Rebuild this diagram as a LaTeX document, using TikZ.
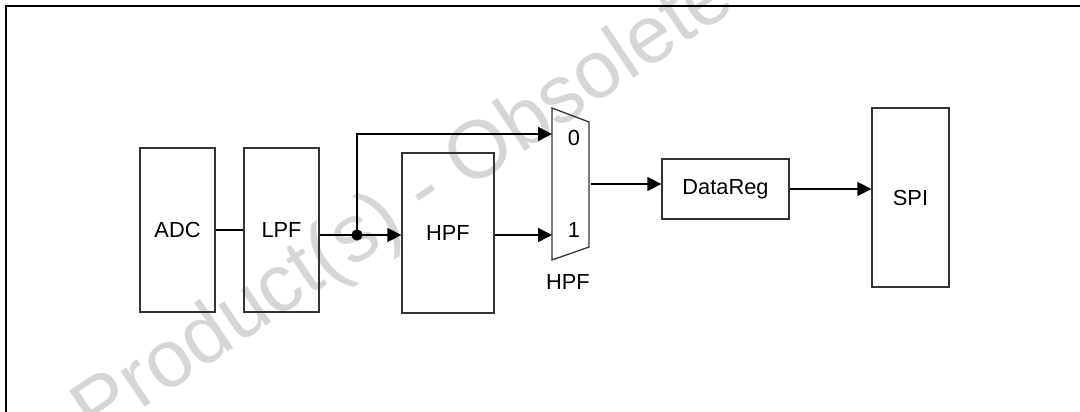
\documentclass[tikz,border=0pt]{standalone}
\usepackage{fontspec}
\setmainfont{Liberation Sans}
\usetikzlibrary{arrows.meta}
\usetikzlibrary{calc}
\tikzset{>={Triangle[length=3.5mm,width=3.5mm]}}
\tikzset{
  blk/.style={draw=black!80, line width=0.9pt, inner sep=0pt, font=\fontsize{15.5}{18}\selectfont},
  lbl/.style={inner sep=0pt, font=\fontsize{15.5}{18}\selectfont},
  wire/.style={line width=1pt}
}

\begin{document}
\begin{tikzpicture}[x=0.025cm,y=-0.025cm]
  \useasboundingbox (0,0) rectangle (1080,412);
  % watermark
  \node[rotate=34, text=black!16, font=\fontsize{58}{66}\selectfont] (wm) at (405,207) {Product(s) - Obsolete};
  % frame
  \draw[line width=1.5pt] (6,430) -- (6,6) -- (1090,6);
  % blocks
  \node[blk, minimum width=1.875cm, minimum height=4.1cm] (adc) at (177.5,230) {ADC};
  \node[blk, minimum width=1.875cm, minimum height=4.1cm] (lpf) at (281.5,230) {LPF};
  \node[blk, minimum width=2.3cm, minimum height=4cm] (hpf) at (448,233) {HPF};
  \node[blk, minimum width=3.175cm, minimum height=1.5cm] (reg) at (725.5,189) {DataReg};
  \node[blk, minimum width=1.925cm, minimum height=4.475cm] (spi) at (910.5,197.5) {SPI};
  % mux
  \coordinate (muxA) at (552,108);
  \coordinate (muxB) at (589,122);
  \coordinate (muxC) at (589,247);
  \coordinate (muxD) at (552,260);
  \draw[draw=black!80, line width=0.9pt] (muxA) -- (muxB) -- (muxC) -- (muxD) -- cycle;
  \node[lbl] (in0) at (574,138) {0};
  \node[lbl] (in1) at (574,230) {1};
  \node[lbl] (muxlbl) at (568,282) {HPF};
  \coordinate (mux0) at (552,134);
  \coordinate (mux1) at (552,235);
  \coordinate (muxout) at (591,184);
  \coordinate (split) at (357,235);
  % connectors
  \draw[wire] (adc) -- (lpf);
  \draw[wire] (lpf.east |- split) -- (split);
  \draw[wire,->] (split) -- (hpf.west |- split);
  \draw[wire,->] (split) |- (mux0);
  \fill (split) circle[radius=1.4mm];
  \draw[wire,->] (hpf.east |- mux1) -- (mux1);
  \draw[wire,->] (muxout) -- (reg.west |- muxout);
  \draw[wire,->] (reg.east) -- (spi.west |- reg.east);
\end{tikzpicture}
\end{document}
